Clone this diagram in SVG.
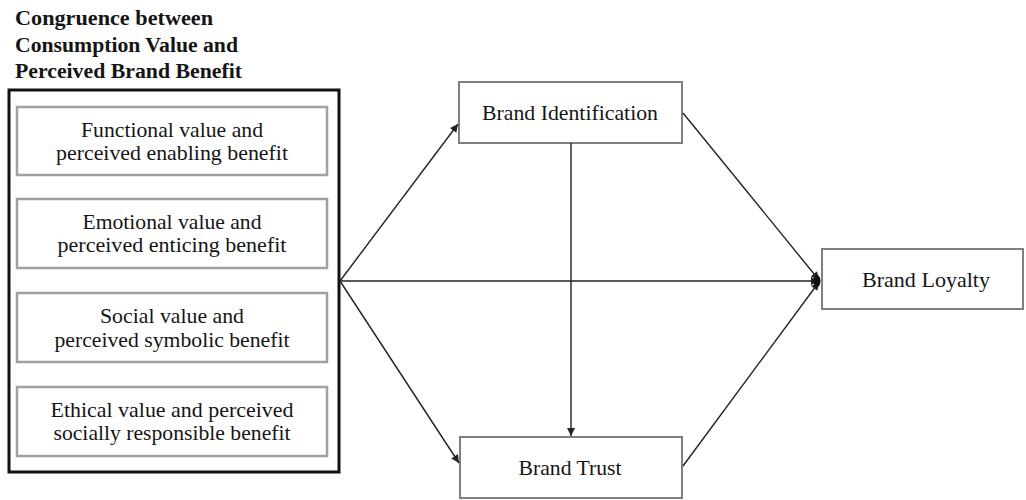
<svg xmlns="http://www.w3.org/2000/svg" width="1026" height="500" viewBox="0 0 1026 500">
<defs>
<style>
.t{font-family:"Liberation Serif","Times New Roman",serif;font-size:21px;fill:#151515;text-anchor:middle}
.title{font-family:"Liberation Serif","Times New Roman",serif;font-size:20px;font-weight:bold;fill:#151515}
.inner{fill:#fff;stroke:#a0a0a0;stroke-width:2.5}
.node{fill:#fff;stroke:#808080;stroke-width:2}
.c{fill:none;stroke:#222;stroke-width:1.4}
</style>
<marker id="ah" viewBox="0 0 10 10" refX="10" refY="5" markerWidth="9" markerHeight="8" markerUnits="userSpaceOnUse" orient="auto">
<path d="M0,0 L10,5 L0,10 Z" fill="#222"/>
</marker>
</defs>
<rect width="1026" height="500" fill="#fff"/>
<g id="title">
<text class="title" x="15" y="25" textLength="198" lengthAdjust="spacingAndGlyphs">Congruence between</text>
<text class="title" x="15" y="52" textLength="223" lengthAdjust="spacingAndGlyphs">Consumption Value and</text>
<text class="title" x="15" y="78" textLength="227" lengthAdjust="spacingAndGlyphs">Perceived Brand Benefit</text>
</g>
<g id="congruence-group">
<rect x="9" y="90" width="330" height="382" fill="#fff" stroke="#111" stroke-width="3"/>
</g>
<g id="functional">
<rect class="inner" x="17" y="107" width="310" height="68"/>
<text class="t" x="172" y="137" textLength="182" lengthAdjust="spacingAndGlyphs">Functional value and</text>
<text class="t" x="172" y="160" textLength="232" lengthAdjust="spacingAndGlyphs">perceived enabling benefit</text>
</g>
<g id="emotional">
<rect class="inner" x="17" y="199" width="310" height="69"/>
<text class="t" x="172" y="229" textLength="179" lengthAdjust="spacingAndGlyphs">Emotional value and</text>
<text class="t" x="172" y="252" textLength="229" lengthAdjust="spacingAndGlyphs">perceived enticing benefit</text>
</g>
<g id="social">
<rect class="inner" x="17" y="293" width="310" height="69"/>
<text class="t" x="172" y="323" textLength="144" lengthAdjust="spacingAndGlyphs">Social value and</text>
<text class="t" x="172" y="347" textLength="235" lengthAdjust="spacingAndGlyphs">perceived symbolic benefit</text>
</g>
<g id="ethical">
<rect class="inner" x="17" y="387" width="310" height="69"/>
<text class="t" x="172" y="417" textLength="243" lengthAdjust="spacingAndGlyphs">Ethical value and perceived</text>
<text class="t" x="172" y="440" textLength="237" lengthAdjust="spacingAndGlyphs">socially responsible benefit</text>
</g>
<g id="brand-identification">
<rect class="node" x="459" y="82" width="223" height="61"/>
<text class="t" x="570" y="120" textLength="176" lengthAdjust="spacingAndGlyphs">Brand Identification</text>
</g>
<g id="brand-trust">
<rect class="node" x="460" y="437" width="222" height="61"/>
<text class="t" x="570" y="475" textLength="103" lengthAdjust="spacingAndGlyphs">Brand Trust</text>
</g>
<g id="brand-loyalty">
<rect class="node" x="822" y="249" width="201" height="60"/>
<text class="t" x="926" y="287" textLength="128" lengthAdjust="spacingAndGlyphs">Brand Loyalty</text>
</g>
<g id="connectors">
<line class="c" x1="340" y1="281" x2="458" y2="124" marker-end="url(#ah)"/>
<line class="c" x1="340" y1="281" x2="459" y2="463" marker-end="url(#ah)"/>
<line class="c" x1="340" y1="281" x2="819" y2="281" stroke="#555" stroke-width="1.6" marker-end="url(#ah)"/>
<line class="c" x1="571" y1="143" x2="571" y2="436" marker-end="url(#ah)"/>
<line class="c" x1="683" y1="113" x2="819" y2="280" marker-end="url(#ah)"/>
<line class="c" x1="683" y1="466" x2="819" y2="282" marker-end="url(#ah)"/>
<ellipse cx="817" cy="281" rx="3.5" ry="6" fill="#111"/>
</g>
</svg>
